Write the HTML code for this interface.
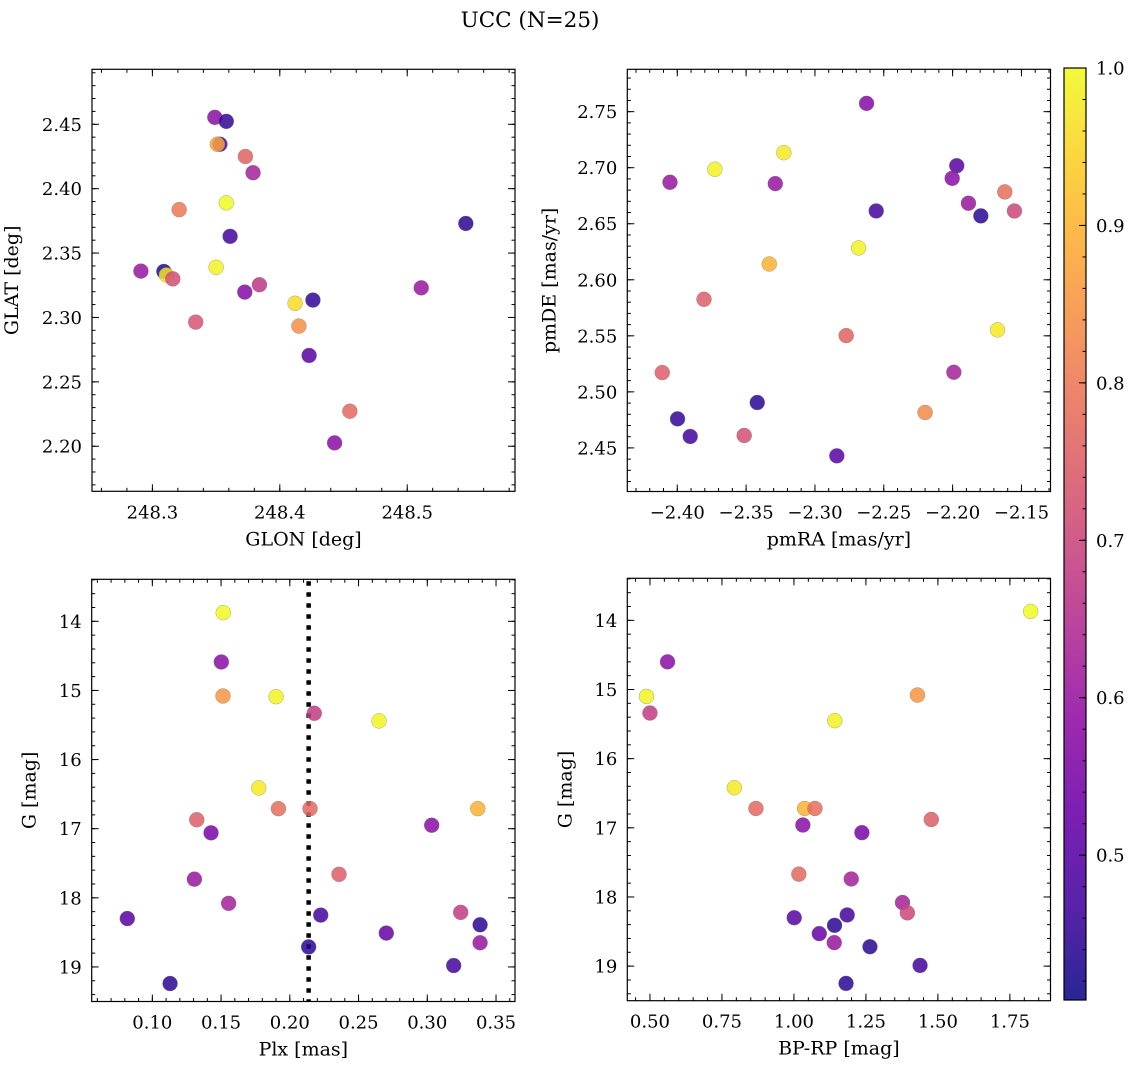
<!DOCTYPE html>
<html><head><meta charset="utf-8">
<style>
html,body{margin:0;padding:0;background:#fff;}
svg{display:block;font-family:"DejaVu Serif","Liberation Serif",serif;}
</style></head>
<body>
<svg id="fig" width="1136" height="1068" viewBox="0 0 1136 1068" xmlns="http://www.w3.org/2000/svg">
<text x="530" y="27" font-size="21.5" text-anchor="middle">UCC (N=25)</text>
</svg>
<script>
// ---- data ----
const glon = [248.349,248.358,248.353,248.351,248.373,248.379,248.321,248.358,248.361,248.546,248.291,248.309,248.311,248.316,248.350,248.384,248.3725,248.412,248.426,248.511,248.334,248.415,248.423,248.455,248.443];
const glat = [2.4554,2.4523,2.4345,2.4345,2.425,2.4124,2.3837,2.389,2.363,2.373,2.336,2.3357,2.333,2.330,2.339,2.3254,2.3197,2.311,2.3135,2.323,2.2964,2.2933,2.2705,2.2272,2.2026];
const probA = [0.58,0.45,0.47,0.88,0.76,0.62,0.80,1.0,0.47,0.44,0.60,0.43,0.97,0.72,0.99,0.67,0.57,0.96,0.45,0.60,0.73,0.84,0.50,0.77,0.58];

const pmra = [-2.2625,-2.3727,-2.3226,-2.4053,-2.3288,-2.197,-2.2003,-2.1621,-2.1885,-2.1795,-2.1551,-2.2555,-2.2683,-2.3332,-2.3806,-2.2773,-2.1674,-2.4109,-2.1991,-2.22,-2.3998,-2.3419,-2.3906,-2.3514,-2.2841];
const pmde = [2.7574,2.6986,2.7134,2.687,2.6858,2.7018,2.6905,2.6784,2.6683,2.657,2.6614,2.6614,2.6284,2.6141,2.5826,2.5502,2.5553,2.5172,2.5175,2.4816,2.4759,2.4905,2.4602,2.4611,2.4429];
const probB = [0.57,0.99,0.98,0.60,0.60,0.50,0.58,0.78,0.60,0.44,0.70,0.47,0.99,0.90,0.75,0.76,0.98,0.75,0.62,0.83,0.45,0.44,0.47,0.72,0.50];

const plx = [0.1516,0.1502,0.1514,0.190,0.2178,0.2649,0.1774,0.1917,0.2147,0.3367,0.1323,0.1427,0.3032,0.2358,0.1306,0.1555,0.3243,0.0818,0.2225,0.3384,0.2702,0.3384,0.2137,0.3192,0.1129];
const gmagC = [13.875,14.588,15.08,15.09,15.33,15.44,16.41,16.71,16.71,16.71,16.87,17.06,16.95,17.66,17.73,18.08,18.21,18.30,18.25,18.39,18.51,18.65,18.71,18.98,19.24];
const probC = [1.0,0.58,0.85,0.99,0.68,0.99,0.98,0.78,0.77,0.90,0.75,0.55,0.58,0.75,0.60,0.62,0.68,0.50,0.47,0.44,0.52,0.60,0.44,0.47,0.44];
const plxMedian = 0.2137;

const bprp = [1.822,0.561,0.488,1.429,0.50,1.142,0.793,0.868,1.037,1.073,1.477,1.031,1.236,1.017,1.199,1.377,1.394,1.001,1.185,1.141,1.088,1.140,1.264,1.438,1.181];
const gmagD = [13.87,14.60,15.10,15.08,15.34,15.45,16.42,16.72,16.72,16.72,16.88,16.96,17.07,17.67,17.74,18.08,18.23,18.30,18.26,18.41,18.53,18.66,18.72,18.99,19.25];
const probD = [1.0,0.58,0.99,0.85,0.68,0.99,0.98,0.77,0.90,0.78,0.75,0.58,0.55,0.77,0.62,0.62,0.70,0.50,0.47,0.44,0.52,0.60,0.44,0.47,0.44];

const ticksA_x = [248.3,248.4,248.5], ticksA_y = [2.20,2.25,2.30,2.35,2.40,2.45];
const ticksB_x = [-2.40,-2.35,-2.30,-2.25,-2.20,-2.15], ticksB_y = [2.45,2.50,2.55,2.60,2.65,2.70,2.75];
const ticksC_x = [0.10,0.15,0.20,0.25,0.30,0.35], ticksG = [14,15,16,17,18,19];
const ticksD_x = [0.50,0.75,1.00,1.25,1.50,1.75];
const cbarTicks = [0.5,0.6,0.7,0.8,0.9,1.0];
const vmin = 0.408, vmax = 1.0;

// ---- helpers ----
const NS = "http://www.w3.org/2000/svg";
const svg = document.getElementById('fig');
const TF = 18, LF = 19;
function mk(tag, attrs, parent){ const e=document.createElementNS(NS,tag); for(const k in attrs) e.setAttribute(k,attrs[k]); (parent||svg).appendChild(e); return e; }
const plasma = [[13,8,135],[65,4,157],[106,0,168],[143,13,164],[177,42,144],[204,71,120],[225,100,98],[242,132,75],[252,166,54],[252,206,37],[240,249,33]];
function cmap(v){ let t=(v-vmin)/(vmax-vmin); t=Math.max(0,Math.min(1,t))*10; const i=Math.min(9,Math.floor(t)), f=t-i; const a=plasma[i], b=plasma[i+1]; return 'rgb('+a.map((c,j)=>Math.round(c+(b[j]-c)*f)).join(',')+')'; }
function fmt(v,d){ const s=Math.abs(v).toFixed(d); return (v<0?'\u2212':'')+s; }

function panel(o){
  const g = mk('g',{});
  
  
  const X = v => o.L + (v-o.xmin)/(o.xmax-o.xmin)*(o.R-o.L);
  const Y = v => o.inv ? o.T + (v-o.ymin)/(o.ymax-o.ymin)*(o.B-o.T) : o.B - (v-o.ymin)/(o.ymax-o.ymin)*(o.B-o.T);
  const tk = mk('g',{stroke:'#000','stroke-width':1},g);
  
  
  for(let v=Math.ceil(o.xmin/o.xminor-1e-9)*o.xminor; v<=o.xmax; v+=o.xminor){ const x=X(v); mk('line',{x1:x,x2:x,y1:o.B,y2:o.B-3.5},tk); mk('line',{x1:x,x2:x,y1:o.T,y2:o.T+3.5},tk); }
  for(let v=Math.ceil(o.ymin/o.yminor-1e-9)*o.yminor; v<=o.ymax; v+=o.yminor){ const y=Y(v); mk('line',{y1:y,y2:y,x1:o.L,x2:o.L+3.5},tk); mk('line',{y1:y,y2:y,x1:o.R,x2:o.R-3.5},tk); }
  o.xt.forEach(v=>{ const x=X(v); mk('line',{x1:x,x2:x,y1:o.B,y2:o.B-7},tk); mk('line',{x1:x,x2:x,y1:o.T,y2:o.T+7},tk);
    const t=mk('text',{x:x,y:o.B+27,'font-size':TF,'text-anchor':'middle'},g); t.textContent=fmt(v,o.xd);
      });
  o.yt.forEach(v=>{ const y=Y(v); mk('line',{y1:y,y2:y,x1:o.L,x2:o.L+7},tk); mk('line',{y1:y,y2:y,x1:o.R,x2:o.R-7},tk);
    const t=mk('text',{x:o.L-10,y:y+6.5,'font-size':TF,'text-anchor':'end'},g); t.textContent=fmt(v,o.yd);
      });
  const xl=mk('text',{x:(o.L+o.R)/2,y:o.B+54,'font-size':LF,'text-anchor':'middle'},g); xl.textContent=o.xlabel;
   
  const yx=o.L-o.ylo, yy=(o.T+o.B)/2;
  const yl=mk('text',{x:yx,y:yy,'font-size':LF,'text-anchor':'middle',transform:'rotate(-90 '+yx+' '+yy+')'},g); yl.textContent=o.ylabel;
   
  if(o.vline!==undefined){ const x=X(o.vline); const l=mk('line',{x1:x,x2:x,y1:o.T+2,y2:o.B,stroke:'#000','stroke-width':4.5,'stroke-dasharray':'4.5 6.5'},g);
      }
  const pts=mk('g',{},g);
  
  
  o.xs.forEach((v,i)=>{ const c=mk('circle',{cx:X(v),cy:Y(o.ys[i]),r:7.5,fill:cmap(o.c[i]),'fill-opacity':0.85,stroke:'#777','stroke-width':0.5,'stroke-opacity':0.6},pts);
      });
  const fr=mk('rect',{x:o.L,y:o.T,width:o.R-o.L,height:o.B-o.T,fill:'none',stroke:'#000','stroke-width':1.2},g);
   
}

panel({name:'glon-glat-panel',L:92,R:515,T:69.3,B:491.3,xmin:248.2526,xmax:248.5846,ymin:2.165,ymax:2.4927,xt:ticksA_x,yt:ticksA_y,xd:1,yd:2,xminor:0.02,yminor:0.01,xlabel:'GLON [deg]',ylabel:'GLAT [deg]',ylo:74,xs:glon,ys:glat,c:probA});
panel({name:'pm-panel',L:627.3,R:1050.5,T:69.3,B:491.5,xmin:-2.4363,xmax:-2.1289,ymin:2.4111,ymax:2.7878,xt:ticksB_x,yt:ticksB_y,xd:2,yd:2,xminor:0.01,yminor:0.01,xlabel:'pmRA [mas/yr]',ylabel:'pmDE [mas/yr]',ylo:72,xs:pmra,ys:pmde,c:probB});
panel({name:'plx-g-panel',L:91.7,R:515,T:579.3,B:1001.5,xmin:0.0559,xmax:0.3638,ymin:13.392,ymax:19.50,inv:true,xt:ticksC_x,yt:ticksG,xd:2,yd:0,xminor:0.01,yminor:0.2,xlabel:'Plx [mas]',ylabel:'G [mag]',ylo:56,xs:plx,ys:gmagC,c:probC,vline:plxMedian});
panel({name:'cmd-panel',L:627.3,R:1050.5,T:578.3,B:1000.7,xmin:0.4213,xmax:1.891,ymin:13.392,ymax:19.50,inv:true,xt:ticksD_x,yt:ticksG,xd:2,yd:0,xminor:0.05,yminor:0.2,xlabel:'BP-RP [mag]',ylabel:'G [mag]',ylo:56,xs:bprp,ys:gmagD,c:probD});

// colorbar
(function(){
  const L=1064,R=1086,T=68,B=1000;
  const g=mk('g',{});
   
  const defs=mk('defs',{},g);
  const lg=mk('linearGradient',{id:'cb',x1:0,y1:1,x2:0,y2:0},defs);
  plasma.forEach((c,i)=>mk('stop',{offset:(i/10),'stop-color':'rgb('+c.join(',')+')','stop-opacity':0.88},lg));
  const r=mk('rect',{x:L,y:T,width:R-L,height:B-T,fill:'url(#cb)',stroke:'#000','stroke-width':1.2},g);
   
  const Y=v=>B-(v-vmin)/(vmax-vmin)*(B-T);
  for(let v=0.42; v<=1.0001; v+=0.02){ const y=Y(v); mk('line',{x1:R,x2:R-3.5,y1:y,y2:y,stroke:'#000'},g); }
  cbarTicks.forEach(v=>{ const y=Y(v); mk('line',{x1:R,x2:R-7,y1:y,y2:y,stroke:'#000'},g);
    const t=mk('text',{x:R+10,y:y+6.5,'font-size':TF},g); t.textContent=v.toFixed(1);
      });
})();
</script>
</body></html>
